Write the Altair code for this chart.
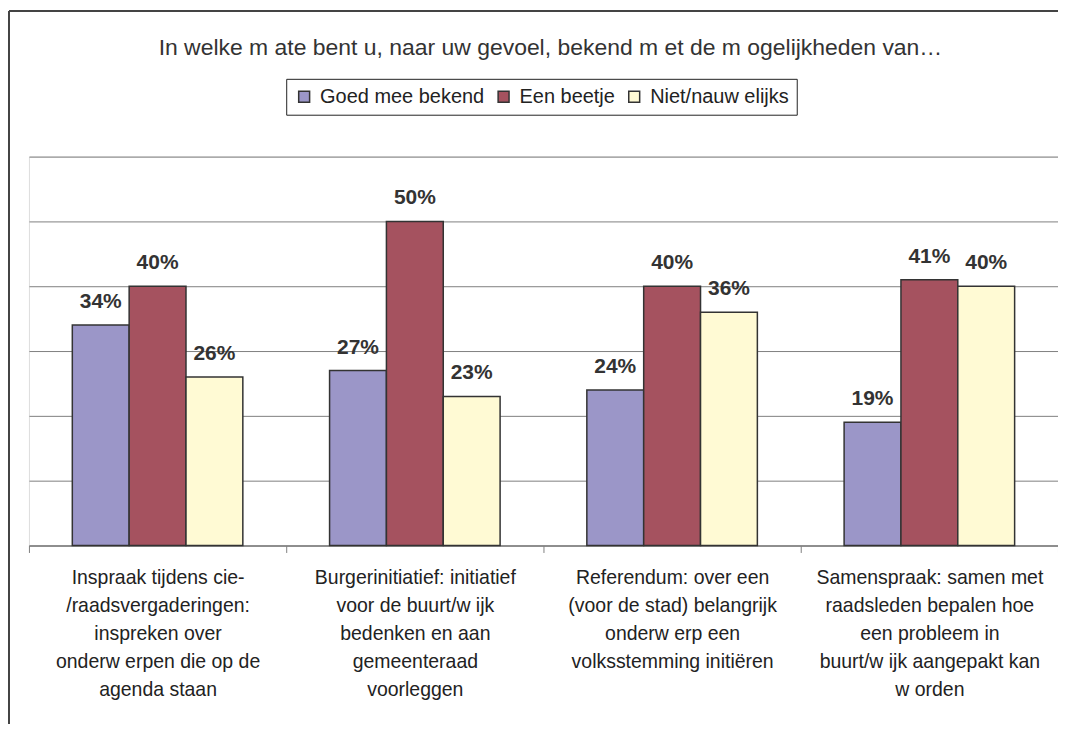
import altair as alt
import pandas as pd

categories = [
    "Inspraak tijdens cie-|/raadsvergaderingen:|inspreken over|onderw erpen die op de|agenda staan",
    "Burgerinitiatief: initiatief|voor de buurt/w ijk|bedenken en aan|gemeenteraad|voorleggen",
    "Referendum: over een|(voor de stad) belangrijk|onderw erp een|volksstemming initiëren",
    "Samenspraak: samen met|raadsleden bepalen hoe|een probleem in|buurt/w ijk aangepakt kan|w orden",
]
series = ["Goed mee bekend", "Een beetje", "Niet/nauw elijks"]
goed = [34, 27, 24, 19]
beetje = [40, 50, 40, 41]
niet = [26, 23, 36, 40]
colors = ["#9b96c8", "#a5525f", "#fffad4"]
title_text = ["In welke m ate bent u, naar uw gevoel, bekend m et de m ogelijkheden van…"]

rows = []
for vals, s in zip([goed, beetje, niet], series):
    for c, v in zip(categories, vals):
        rows.append({"cat": c, "series": s, "value": v, "label": f"{v}%"})
df = pd.DataFrame(rows)

FONT = "Liberation Sans"
W, H = 1032, 390

x = alt.X("cat:N", sort=categories,
          scale=alt.Scale(paddingInner=0, paddingOuter=0),
          axis=alt.Axis(title=None, labelExpr="split(datum.label, '|')", labelAngle=0,
                        labelFontSize=19.5, labelFont=FONT, labelColor="#222",
                        labelLineHeight=28, labelPadding=16, labelLimit=400,
                        tickBand="extent", tickSize=7, tickColor="#808080",
                        domainColor="#808080", domainWidth=1.5, grid=False))
xo = alt.XOffset("series:N", sort=series, scale=alt.Scale(paddingInner=0, paddingOuter=0.763))
y = alt.Y("value:Q", scale=alt.Scale(domain=[0, 60], nice=False),
          axis=alt.Axis(title=None, labels=False, ticks=False, domain=False,
                        values=[0, 10, 20, 30, 40, 50, 60], grid=True,
                        gridColor="#808080", gridWidth=1))

base = alt.Chart(df)
bars = base.mark_bar(stroke="#333333", strokeWidth=1.5).encode(
    x=x, xOffset=xo, y=y,
    color=alt.Color("series:N", sort=series,
                    scale=alt.Scale(domain=series, range=colors),
                    legend=alt.Legend(title=None, orient="none", legendX=258, legendY=-78,
                                      direction="horizontal", columns=3,
                                      symbolType="square", symbolSize=120,
                                      symbolStrokeColor="#333333", symbolStrokeWidth=1.5,
                                      labelFontSize=20, labelFont=FONT, labelColor="#222",
                                      labelLimit=400,
                                      columnPadding=9, symbolOffset=0,
                                      strokeColor="#222", padding=8, labelOffset=6)),
)
text = base.mark_text(fontSize=21, fontWeight="bold", font=FONT, color="#333333",
                      baseline="alphabetic", dy=-17).encode(
    x=x, xOffset=xo, y=y, text="label:N")

title = alt.Chart(pd.DataFrame({"t": title_text})).mark_text(
    fontSize=23, font=FONT, color="#333333", align="center", baseline="middle").encode(
    x=alt.value(523), y=alt.value(-109), text="t:N")

frame_top = alt.Chart(pd.DataFrame({"a": [0]})).mark_rule(color="#444", strokeWidth=2).encode(
    x=alt.value(-20), x2=alt.value(1045), y=alt.value(-146))
frame_left = alt.Chart(pd.DataFrame({"a": [0]})).mark_rule(color="#444", strokeWidth=2).encode(
    x=alt.value(-20), y=alt.value(-146), y2=alt.value(575))

chart = alt.layer(frame_top, frame_left, title, bars, text).properties(
    width=W, height=H,
    padding={"left": 21, "top": 148, "right": 0, "bottom": 178},
    autosize=alt.AutoSizeParams(type="none"),
).configure_view(stroke="#a09898", strokeWidth=2).configure(background="white")

chart.save("out.html", embed_options={"renderer": "svg", "actions": False})
